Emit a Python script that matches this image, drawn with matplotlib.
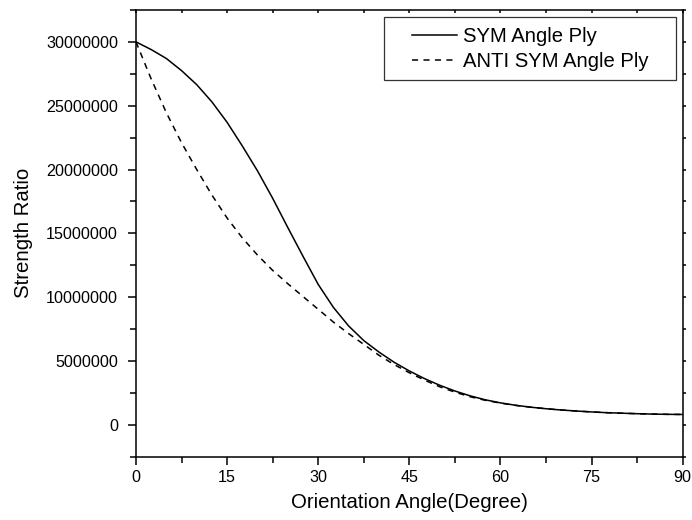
import matplotlib
matplotlib.use("Agg")
import matplotlib.pyplot as plt
from matplotlib.ticker import MultipleLocator
from matplotlib.patches import Rectangle

plt.rcParams['font.family'] = ['Liberation Sans', 'DejaVu Sans']

# orientation angle (degrees)
angle = [0, 2.5, 5, 7.5, 10, 12.5, 15, 17.5, 20, 22.5, 25, 27.5, 30, 32.5, 35,
         37.5, 40, 42.5, 45, 47.5, 50, 52.5, 55, 57.5, 60, 62.5, 65, 67.5, 70,
         72.5, 75, 77.5, 80, 82.5, 85, 87.5, 90]

# strength ratio, symmetric angle ply
sym = [30.0e6, 29.4e6, 28.7e6, 27.75e6, 26.65e6, 25.3e6, 23.7e6, 21.85e6,
       19.9e6, 17.75e6, 15.45e6, 13.2e6, 11.0e6, 9.2e6, 7.75e6, 6.6e6, 5.7e6,
       4.9e6, 4.22e6, 3.62e6, 3.1e6, 2.65e6, 2.27e6, 1.96e6, 1.72e6, 1.53e6,
       1.38e6, 1.26e6, 1.16e6, 1.08e6, 1.01e6, 0.95e6, 0.91e6, 0.87e6, 0.84e6,
       0.82e6, 0.81e6]

# strength ratio, anti-symmetric angle ply
anti = [30.0e6, 27.1e6, 24.45e6, 22.1e6, 20.0e6, 18.0e6, 16.2e6, 14.65e6,
        13.3e6, 12.1e6, 11.05e6, 10.05e6, 9.05e6, 8.05e6, 7.15e6, 6.3e6, 5.45e6,
        4.72e6, 4.08e6, 3.5e6, 2.98e6, 2.56e6, 2.2e6, 1.92e6, 1.7e6, 1.52e6,
        1.38e6, 1.26e6, 1.16e6, 1.08e6, 1.01e6, 0.95e6, 0.91e6, 0.87e6, 0.84e6,
        0.82e6, 0.81e6]

fig = plt.figure(figsize=(6.92, 5.2), dpi=100)
ax = fig.add_axes([0.1965, 0.1217, 0.79, 0.8591])

ax.plot(angle, sym, color='black', lw=1.1, label='SYM Angle Ply')
ax.plot(angle, anti, color='black', lw=1.1, dashes=(4, 3.5), label='ANTI SYM Angle Ply')

ax.set_xlim(0, 90)
ax.set_ylim(-2.5e6, 32.5e6)
ax.xaxis.set_major_locator(MultipleLocator(15))
ax.xaxis.set_minor_locator(MultipleLocator(7.5))
ax.yaxis.set_major_locator(MultipleLocator(5e6))
ax.yaxis.set_minor_locator(MultipleLocator(2.5e6))
ax.ticklabel_format(axis='y', style='plain', useOffset=False)

for s in ax.spines.values():
    s.set_linewidth(1.1)

ax.tick_params(which='both', direction='out', labelsize=11.6, width=1.1)
ax.tick_params(which='major', length=6)
ax.tick_params(which='minor', length=4)
ax.tick_params(axis='y', which='major', pad=7)
ax.tick_params(axis='x', which='both', top=True, labeltop=False)
ax.tick_params(axis='y', which='both', right=True, labelright=False)
# short mirrored ticks: top ones point inward, right ones outward
for t in ax.xaxis.get_major_ticks() + ax.xaxis.get_minor_ticks():
    t.tick2line.set_marker(3)
    t.tick2line.set_markersize(2.5)
for t in ax.yaxis.get_major_ticks() + ax.yaxis.get_minor_ticks():
    t.tick2line.set_markersize(2.5)

ax.set_xlabel('Orientation Angle(Degree)', fontsize=14.7, labelpad=6)
ax.set_ylabel('Strength Ratio', fontsize=14.7, labelpad=9)

# legend entries without matplotlib's own frame, boxed separately
leg = ax.legend(loc='upper left', bbox_to_anchor=(0.505, 0.962),
                frameon=False, fontsize=14.6, borderpad=0,
                handlelength=2.2, handletextpad=0.3, labelspacing=0.3,
                borderaxespad=0)
ax.add_patch(Rectangle((0.4536, 0.8433), 0.5341, 0.141, transform=ax.transAxes,
                       fill=False, edgecolor='#333333', lw=0.9, zorder=5))

fig.savefig('out.png', dpi=100)
